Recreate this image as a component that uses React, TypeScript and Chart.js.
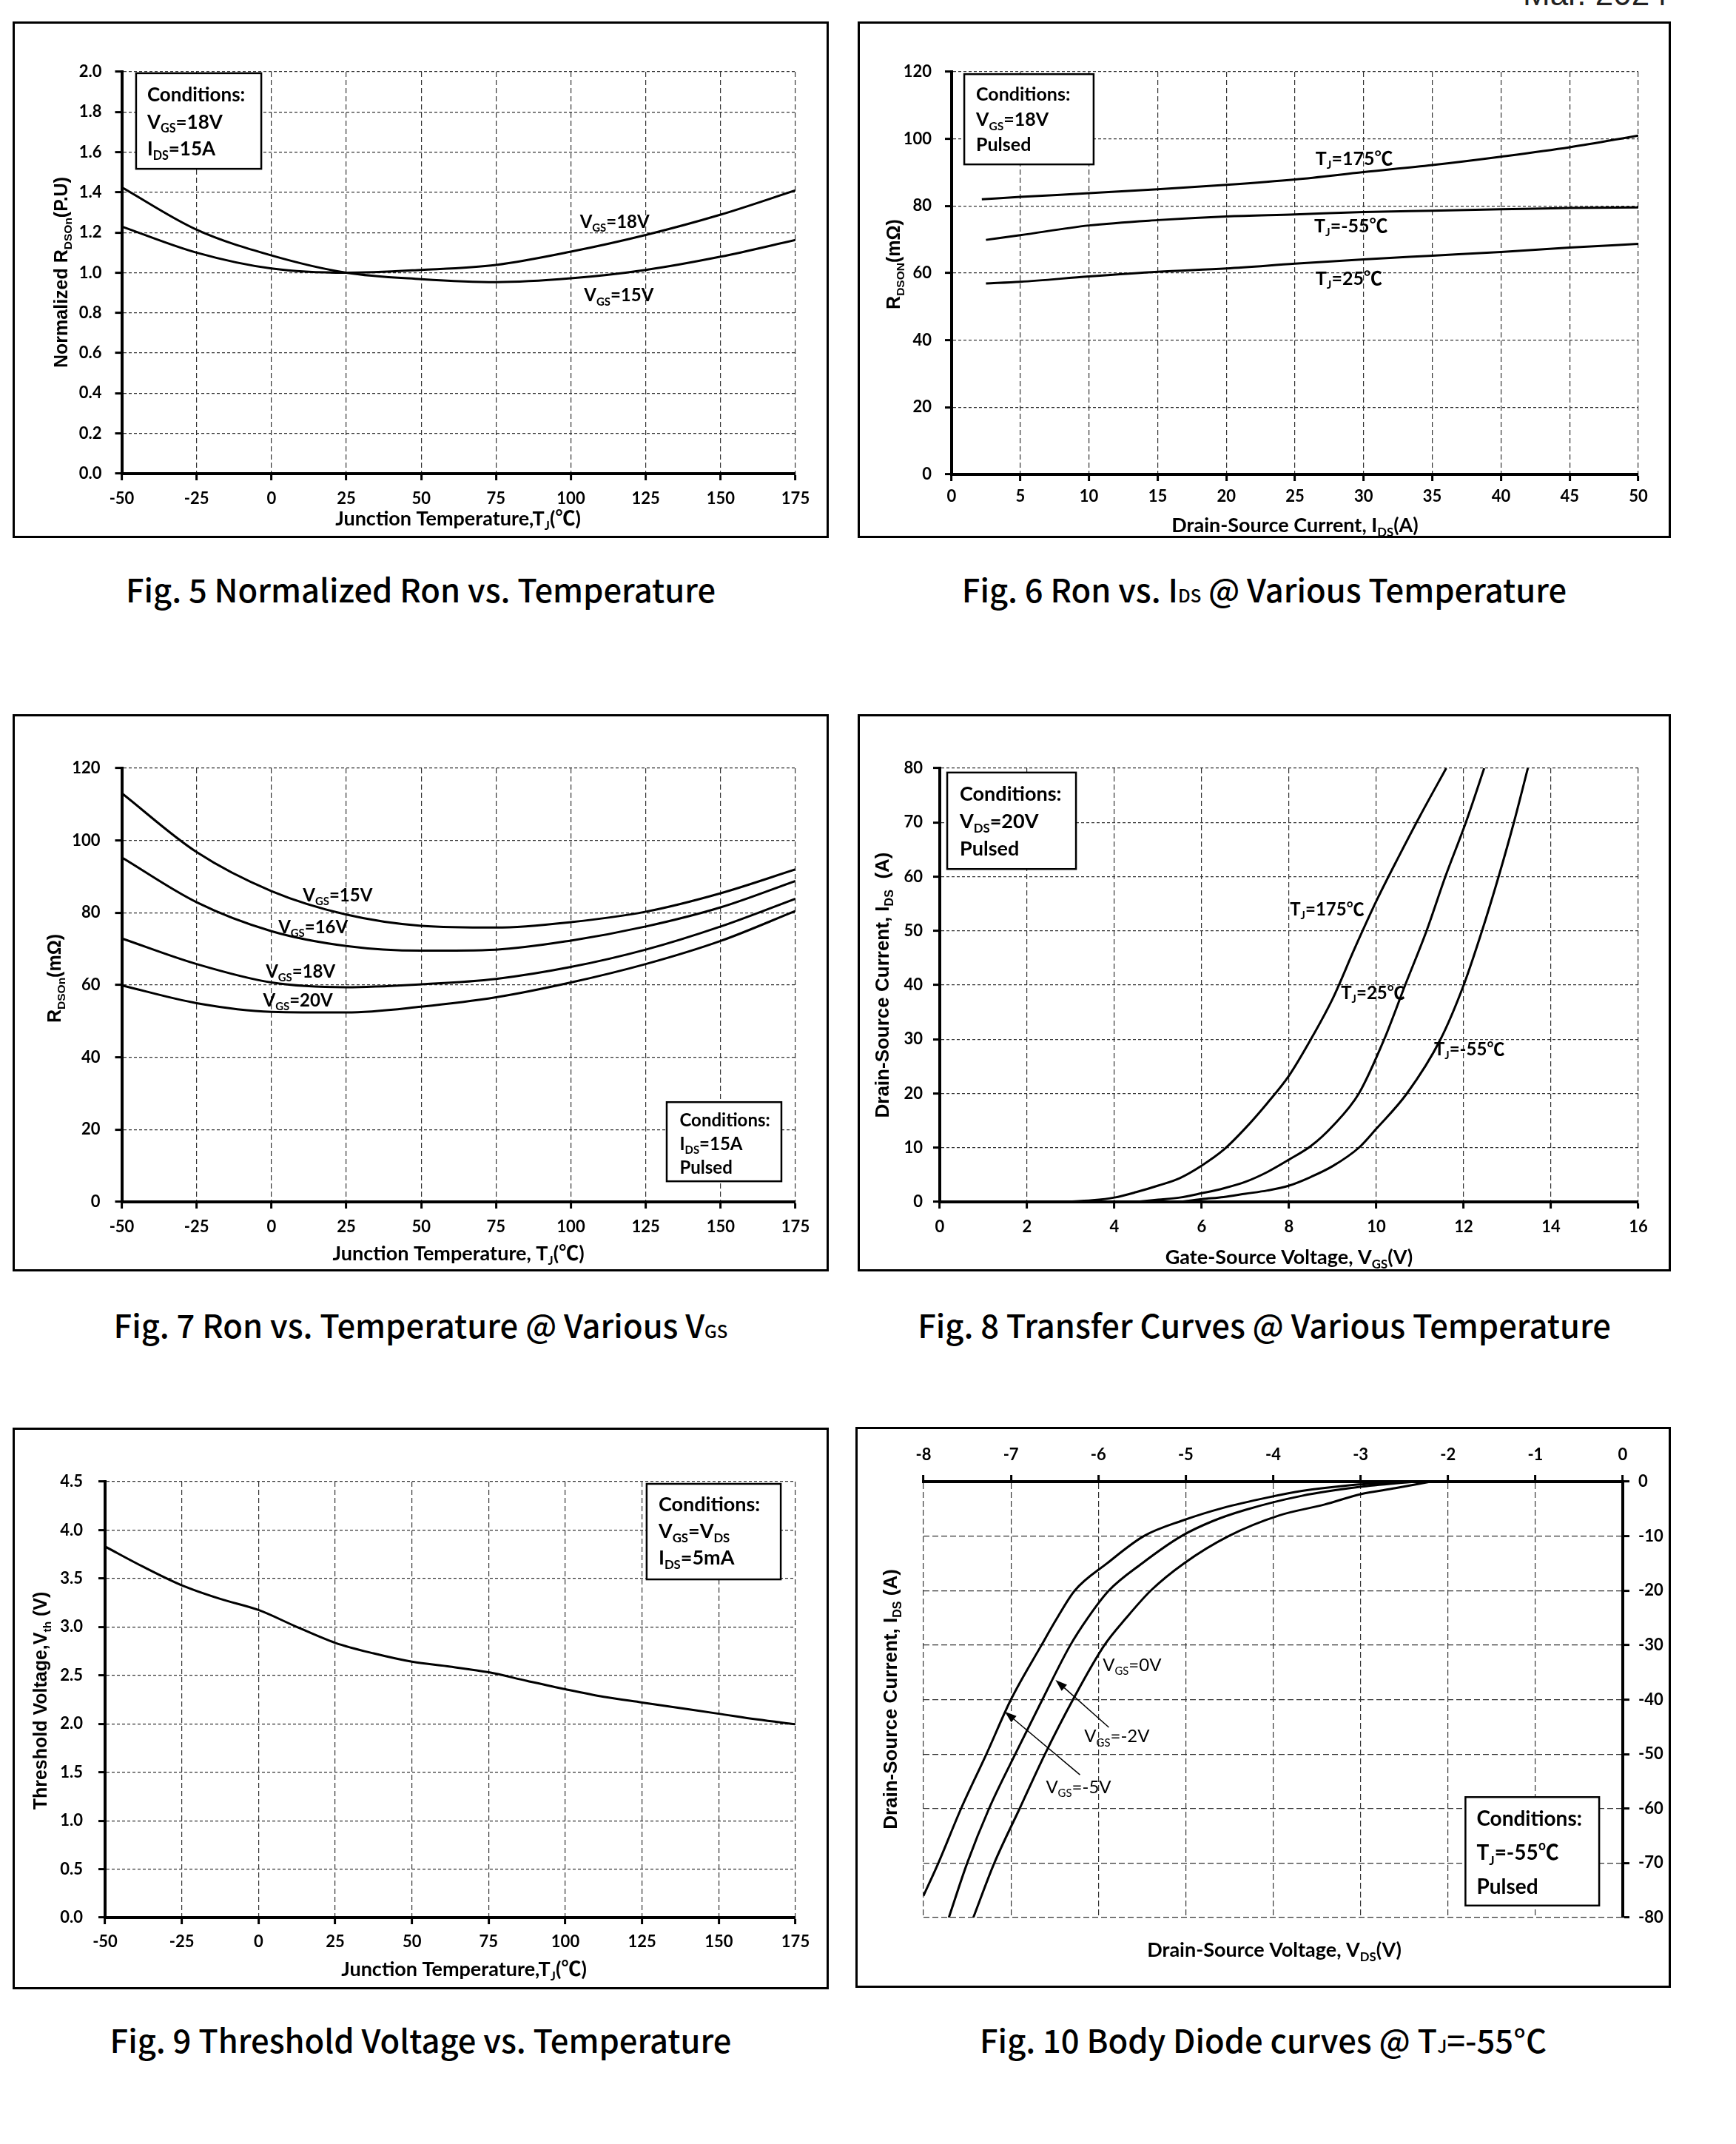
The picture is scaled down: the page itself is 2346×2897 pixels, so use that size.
import React, { useEffect, useRef } from 'react';
import { Chart, registerables } from 'chart.js';
Chart.register(...registerables);

// ---------------- Data ----------------
// Fig 5 Normalized Ron vs Temperature
const fig5Temp = [-50, -25, 0, 25, 50, 75, 100, 125, 150, 175];
const fig5Vgs18 = [1.23, 1.1, 1.021, 1.0, 1.014, 1.039, 1.105, 1.188, 1.289, 1.41];
const fig5Vgs15 = [1.425, 1.214, 1.086, 1.0, 0.968, 0.953, 0.972, 1.014, 1.08, 1.163];

// Fig 6 Ron vs IDS
const fig6Ids175 = [2.2, 5, 10, 15, 20, 25, 30, 35, 40, 45, 50];
const fig6Ids = [2.5, 5, 10, 15, 20, 25, 30, 35, 40, 45, 50];
const fig6Tj175 = [82.0, 82.7, 83.8, 85.0, 86.3, 87.9, 90.1, 92.2, 94.7, 97.5, 101.0];
const fig6TjM55 = [69.9, 71.3, 74.2, 75.8, 76.9, 77.5, 78.2, 78.6, 79.0, 79.4, 79.6];
const fig6Tj25 = [56.9, 57.4, 59.0, 60.4, 61.4, 62.8, 64.1, 65.2, 66.3, 67.6, 68.7];

// Fig 7 Ron vs Temperature @ various VGS
const fig7Temp = [-50, -25, 0, 25, 50, 75, 100, 125, 150, 175];
const fig7Vgs15 = [113.1, 96.8, 86.0, 79.5, 76.4, 75.9, 77.4, 80.3, 85.4, 92.0];
const fig7Vgs16 = [95.3, 82.9, 74.9, 70.8, 69.5, 69.8, 72.3, 76.2, 81.5, 88.8];
const fig7Vgs18 = [72.9, 65.8, 60.7, 59.4, 60.2, 61.7, 65.0, 69.8, 76.2, 83.9];
const fig7Vgs20 = [59.9, 55.0, 52.6, 52.4, 54.0, 56.6, 60.7, 65.8, 72.2, 80.5];

// Fig 8 Transfer curves
const fig8Vgs175 = [2.8, 3.5, 4, 4.5, 5, 5.5, 6, 6.5, 7, 7.5, 8, 8.5, 9, 9.5, 10, 10.5, 11, 11.6];
const fig8Ids175 = [0, 0.3, 0.8, 1.8, 3.0, 4.4, 6.7, 9.6, 13.6, 18.2, 23.3, 30, 37.5, 46.7, 55.5, 63.5, 71.2, 80];
const fig8Vgs25 = [4.5, 5, 5.5, 6, 6.5, 7, 7.5, 8, 8.5, 9, 9.6, 10.18, 10.66, 11.15, 11.58, 12.05, 12.47];
const fig8Ids25 = [0, 0.4, 0.8, 1.6, 2.5, 3.7, 5.5, 7.8, 10.3, 14, 20, 30, 40, 50, 60, 70, 80];
const fig8VgsM55 = [5.5, 6, 6.5, 7, 7.5, 8, 8.5, 9, 9.6, 10, 10.7, 11.47, 12, 12.42, 12.8, 13.15, 13.47];
const fig8IdsM55 = [0, 0.5, 0.9, 1.5, 2.1, 3.0, 4.6, 6.6, 10, 13.5, 20, 30, 40, 50, 60, 70, 80];

// Fig 9 Threshold voltage vs temperature
const fig9Temp = [-50, -37.5, -25, -12.5, 0, 12.5, 25, 37.5, 50, 62.5, 75, 87.5, 100, 112.5, 125, 137.5, 150, 162.5, 175];
const fig9Vth = [3.83, 3.62, 3.43, 3.29, 3.175, 3.0, 2.836, 2.727, 2.641, 2.59, 2.532, 2.443, 2.357, 2.279, 2.22, 2.162, 2.104, 2.045, 1.995];

// Fig 10 Body diode curves
const fig10Vds0 = [-2.2, -2.6, -3.0, -3.41, -3.93, -4.51, -5.02, -5.4, -5.68, -5.93, -6.29, -6.61, -6.9, -7.19, -7.43];
const fig10Ids0 = [0, -1.2, -2.3, -4.2, -6.2, -10, -15, -20, -25, -30, -40, -50, -60, -70, -80];
const fig10VdsM2 = [-2.38, -3.02, -3.67, -4.32, -4.7, -5.05, -5.5, -5.88, -6.12, -6.32, -6.64, -6.95, -7.25, -7.5, -7.71];
const fig10IdsM2 = [0, -1, -2.6, -5.2, -7.3, -10, -15, -20, -25, -30, -40, -50, -60, -70, -80];
const fig10VdsM5 = [-2.47, -3.15, -3.67, -4.06, -4.57, -5.03, -5.48, -5.9, -6.27, -6.47, -6.65, -7.0, -7.28, -7.57, -7.83, -8.0];
const fig10IdsM5 = [0, -0.7, -1.7, -2.9, -4.8, -7.1, -10, -15, -20, -25, -30, -40, -50, -60, -70, -76];

// ---------------- Rendering helpers ----------------
const LABEL_FONT = 'Lato, "Noto Sans CJK SC", sans-serif';
const YT_FONT = '"Liberation Sans", Arial, "Noto Sans CJK SC", sans-serif';

type Seg = { t: string; sub: boolean };
function parseRich(s: string): Seg[] {
  const out: Seg[] = [];
  const re = /_\{([^}]*)\}/g;
  let last = 0;
  let m: RegExpExecArray | null;
  while ((m = re.exec(s))) {
    if (m.index > last) out.push({ t: s.slice(last, m.index), sub: false });
    out.push({ t: m[1], sub: true });
    last = re.lastIndex;
  }
  if (last < s.length) out.push({ t: s.slice(last), sub: false });
  return out;
}

function drawRich(ctx: CanvasRenderingContext2D, s: string, x: number, y: number, size: number, family: string, weight: string, align: 'left' | 'center') {
  const segs = parseRich(s);
  const subSize = size * 0.62;
  let total = 0;
  const ws = segs.map((g) => {
    ctx.font = `${weight} ${g.sub ? subSize : size}px ${family}`;
    const w = ctx.measureText(g.t).width;
    total += w;
    return w;
  });
  let cx = align === 'center' ? x - total / 2 : x;
  ctx.textAlign = 'left';
  ctx.textBaseline = 'alphabetic';
  segs.forEach((g, i) => {
    ctx.font = `${weight} ${g.sub ? subSize : size}px ${family}`;
    ctx.fillText(g.t, cx, g.sub ? y + size * 0.22 : y);
    cx += ws[i];
  });
}

type Series = { x: number[]; y: number[] };
type Axis = { min: number; max: number; step: number; pos: string; size: number; pad: number; dec?: number };
type Label = { x: number; y: number; text: string; size: number; weight?: string };
type Arrow = { x1: number; y1: number; x2: number; y2: number };
type Spec = {
  L: number; T: number; W: number; H: number;
  padding: { left: number; top: number; right: number; bottom: number };
  xAxis: Axis; yAxis: Axis;
  series: Series[];
  yTitle: { text: string; x: number; y: number; size: number };
  xTitle: { text: string; x: number; y: number; size: number };
  box: { x1: number; y1: number; x2: number; y2: number; padL: number; first: number; gap: number; size: number; lines: string[] };
  labels: Label[];
  arrows?: Arrow[];
  hDash: number[]; vDash: number[];
};

function makeAnnot(s: Spec) {
  return {
    id: 'annot',
    afterDatasetsDraw(chart: any) {
      const ctx = chart.ctx as CanvasRenderingContext2D;
      const xs = chart.scales.x;
      const ys = chart.scales.y;
      const px = (v: number) => xs.getPixelForValue(v);
      const py = (v: number) => ys.getPixelForValue(v);
      ctx.save();
      ctx.fillStyle = '#000';
      ctx.strokeStyle = '#000';
      for (const a of s.arrows || []) {
        const x1 = px(a.x1), y1 = py(a.y1), x2 = px(a.x2), y2 = py(a.y2);
        const ang = Math.atan2(y2 - y1, x2 - x1);
        const hl = 16, hw = 5.5;
        const bx = x2 - hl * Math.cos(ang), by = y2 - hl * Math.sin(ang);
        ctx.lineWidth = 1.5;
        ctx.beginPath(); ctx.moveTo(x1, y1); ctx.lineTo(bx, by); ctx.stroke();
        ctx.beginPath(); ctx.moveTo(x2, y2);
        ctx.lineTo(bx + hw * Math.sin(ang), by - hw * Math.cos(ang));
        ctx.lineTo(bx - hw * Math.sin(ang), by + hw * Math.cos(ang));
        ctx.closePath(); ctx.fill();
      }
      for (const l of s.labels) {
        drawRich(ctx, l.text, px(l.x), py(l.y) + l.size * 0.36, l.size, LABEL_FONT, l.weight || 'bold', 'left');
      }
      const b = s.box;
      const bx1 = px(b.x1), by1 = py(b.y1), bx2 = px(b.x2), by2 = py(b.y2);
      ctx.fillStyle = '#fff';
      ctx.fillRect(bx1, by1, bx2 - bx1, by2 - by1);
      ctx.lineWidth = 2.5;
      ctx.strokeStyle = '#000';
      ctx.strokeRect(bx1, by1, bx2 - bx1, by2 - by1);
      ctx.fillStyle = '#000';
      b.lines.forEach((t, i) => drawRich(ctx, t, bx1 + b.padL, by1 + b.first + i * b.gap + b.size * 0.36, b.size, LABEL_FONT, 'bold', 'left'));
      ctx.save();
      ctx.translate(s.yTitle.x, s.yTitle.y);
      ctx.rotate(-Math.PI / 2);
      drawRich(ctx, s.yTitle.text, 0, s.yTitle.size * 0.36, s.yTitle.size, YT_FONT, 'bold', 'center');
      ctx.restore();
      drawRich(ctx, s.xTitle.text, s.xTitle.x, s.xTitle.y + s.xTitle.size * 0.36, s.xTitle.size, LABEL_FONT, 'bold', 'center');
      ctx.restore();
    },
  };
}

function buildConfig(s: Spec): any {
  const datasets = s.series.map((ser) => ({
    data: ser.x.map((x, i) => ({ x, y: ser.y[i] })),
    borderColor: '#000',
    backgroundColor: '#000',
    borderWidth: 3,
    pointRadius: 0,
    fill: false,
    cubicInterpolationMode: 'monotone',
  }));
  const mkScale = (a: Axis, horizontal: boolean) => {
    const ticks: any = {
      stepSize: a.step,
      autoSkip: false,
      maxRotation: 0,
      minRotation: 0,
      padding: a.pad,
      color: '#000',
      font: { family: 'Lato, "Noto Sans CJK SC", sans-serif', weight: 'bold', size: 22 },
    };
    if (a.dec !== undefined) ticks.callback = (v: number) => Number(v).toFixed(a.dec);
    return {
      type: 'linear',
      position: a.pos,
      min: a.min,
      max: a.max,
      afterFit: (sc: any) => {
        if (horizontal) sc.height = a.size;
        else sc.width = a.size;
      },
      ticks,
      grid: { color: '#333', lineWidth: 1.2, drawTicks: true, tickLength: 9, tickWidth: 3, tickColor: '#000', drawOnChartArea: true },
      border: { display: true, color: '#000', width: 4, dash: horizontal ? s.vDash : s.hDash },
    };
  };
  return {
    type: 'line',
    data: { datasets },
    options: {
      responsive: false,
      animation: false,
      devicePixelRatio: 1,
      layout: { padding: s.padding },
      plugins: { legend: { display: false }, tooltip: { enabled: false } },
      scales: { x: mkScale(s.xAxis, true), y: mkScale(s.yAxis, false) },
    },
    plugins: [makeAnnot(s)],
  };
}

// ---------------- Chart specs ----------------
const fig5: Spec = {
  L: 17, T: 29, W: 1103, H: 698,
  padding: { left: 67.5, top: 68, right: 45, bottom: 32 },
  xAxis: { min: -50, max: 175, step: 25, pos: 'bottom', size: 55, pad: 12 },
  yAxis: { min: 0, max: 2, step: 0.2, pos: 'left', size: 80, pad: 18, dec: 1 },
  series: [{ x: fig5Temp, y: fig5Vgs18 }, { x: fig5Temp, y: fig5Vgs15 }],
  yTitle: { text: 'Normalized R_{DSOn}(P.U)', x: 65, y: 339, size: 25 },
  xTitle: { text: 'Junction Temperature,T_{J}(℃)', x: 602, y: 671, size: 27 },
  box: { x1: -45.2, y1: 1.993, x2: -3.4, y2: 1.517, padL: 15, first: 29, gap: 36.5, size: 26, lines: ['Conditions:', 'V_{GS}=18V', 'I_{DS}=15A'] },
  labels: [
    { x: 103, y: 1.255, text: 'V_{GS}=18V', size: 24 },
    { x: 104.4, y: 0.889, text: 'V_{GS}=15V', size: 24 },
  ],
  hDash: [4, 3], vDash: [7, 4],
};

const fig6: Spec = {
  L: 1159, T: 29, W: 1099, H: 698,
  padding: { left: 47, top: 68, right: 44, bottom: 31 },
  xAxis: { min: 0, max: 50, step: 5, pos: 'bottom', size: 55, pad: 8 },
  yAxis: { min: 0, max: 120, step: 20, pos: 'left', size: 80, pad: 18 },
  series: [{ x: fig6Ids175, y: fig6Tj175 }, { x: fig6Ids, y: fig6TjM55 }, { x: fig6Ids, y: fig6Tj25 }],
  yTitle: { text: 'R_{DSON}(mΩ)', x: 48, y: 328, size: 25 },
  xTitle: { text: 'Drain-Source Current, I_{DS}(A)', x: 591, y: 680, size: 27 },
  box: { x1: 0.92, y1: 119.3, x2: 10.34, y2: 92.4, padL: 16, first: 27, gap: 34, size: 25, lines: ['Conditions:', 'V_{GS}=18V', 'Pulsed'] },
  labels: [
    { x: 26.5, y: 94.3, text: 'T_{J}=175℃', size: 25 },
    { x: 26.4, y: 74.2, text: 'T_{J}=-55℃', size: 25 },
    { x: 26.5, y: 58.5, text: 'T_{J}=25℃', size: 25 },
  ],
  hDash: [4, 3], vDash: [7, 4],
};

const fig7: Spec = {
  L: 17, T: 965, W: 1103, H: 753,
  padding: { left: 67.5, top: 73, right: 45, bottom: 39 },
  xAxis: { min: -50, max: 175, step: 25, pos: 'bottom', size: 55, pad: 12 },
  yAxis: { min: 0, max: 120, step: 20, pos: 'left', size: 80, pad: 20 },
  series: [
    { x: fig7Temp, y: fig7Vgs15 },
    { x: fig7Temp, y: fig7Vgs16 },
    { x: fig7Temp, y: fig7Vgs18 },
    { x: fig7Temp, y: fig7Vgs20 },
  ],
  yTitle: { text: 'R_{DSOn}(mΩ)', x: 56, y: 357, size: 25 },
  xTitle: { text: 'Junction Temperature, T_{J}(℃)', x: 602.6, y: 728, size: 27 },
  box: { x1: 132, y1: 27.6, x2: 170.3, y2: 5.7, padL: 17.5, first: 24, gap: 32, size: 24, lines: ['Conditions:', 'I_{DS}=15A', 'Pulsed'] },
  labels: [
    { x: 10.5, y: 84.9, text: 'V_{GS}=15V', size: 24 },
    { x: 2.3, y: 76.2, text: 'V_{GS}=16V', size: 24 },
    { x: -1.9, y: 63.8, text: 'V_{GS}=18V', size: 24 },
    { x: -2.8, y: 55.8, text: 'V_{GS}=20V', size: 24 },
  ],
  hDash: [4, 3], vDash: [7, 4],
};

const fig8: Spec = {
  L: 1159, T: 965, W: 1099, H: 753,
  padding: { left: 31, top: 73, right: 44, bottom: 39 },
  xAxis: { min: 0, max: 16, step: 2, pos: 'bottom', size: 55, pad: 12 },
  yAxis: { min: 0, max: 80, step: 10, pos: 'left', size: 80, pad: 14 },
  series: [
    { x: fig8Vgs175, y: fig8Ids175 },
    { x: fig8Vgs25, y: fig8Ids25 },
    { x: fig8VgsM55, y: fig8IdsM55 },
  ],
  yTitle: { text: 'Drain-Source Current, I_{DS}  (A)', x: 33, y: 366, size: 26 },
  xTitle: { text: 'Gate-Source Voltage, V_{GS}(V)', x: 583, y: 733, size: 27 },
  box: { x1: 0.17, y1: 79.2, x2: 3.12, y2: 61.4, padL: 17, first: 28, gap: 37, size: 27, lines: ['Conditions:', 'V_{DS}=20V', 'Pulsed'] },
  labels: [
    { x: 8.02, y: 54.0, text: 'T_{J}=175℃', size: 24 },
    { x: 9.19, y: 38.6, text: 'T_{J}=25℃', size: 24 },
    { x: 11.32, y: 28.2, text: 'T_{J}=-55℃', size: 24 },
  ],
  hDash: [4, 3], vDash: [7, 4],
};

const fig9: Spec = {
  L: 17, T: 1929, W: 1103, H: 759,
  padding: { left: 45, top: 73, right: 45, bottom: 42 },
  xAxis: { min: -50, max: 175, step: 25, pos: 'bottom', size: 55, pad: 11 },
  yAxis: { min: 0, max: 4.5, step: 0.5, pos: 'left', size: 80, pad: 21, dec: 1 },
  series: [{ x: fig9Temp, y: fig9Vth }],
  yTitle: { text: 'Threshold Voltage,V_{th} (V)', x: 37, y: 369, size: 25 },
  xTitle: { text: 'Junction Temperature,T_{J}(℃)', x: 610, y: 731, size: 27 },
  box: { x1: 126.5, y1: 4.477, x2: 170.2, y2: 3.491, padL: 16, first: 27, gap: 36, size: 27, lines: ['Conditions:', 'V_{GS}=V_{DS}', 'I_{DS}=5mA'] },
  labels: [],
  hDash: [4, 3], vDash: [7, 4],
};

const fig10: Spec = {
  L: 1156, T: 1928, W: 1102, H: 758,
  padding: { left: 92, top: 19, right: 5, bottom: 95 },
  xAxis: { min: -8, max: 0, step: 1, pos: 'top', size: 55, pad: 14 },
  yAxis: { min: -80, max: 0, step: 10, pos: 'right', size: 60, pad: 12 },
  series: [
    { x: fig10Vds0, y: fig10Ids0 },
    { x: fig10VdsM2, y: fig10IdsM2 },
    { x: fig10VdsM5, y: fig10IdsM5 },
  ],
  yTitle: { text: 'Drain-Source Current, I_{DS} (A)', x: 47, y: 368, size: 26 },
  xTitle: { text: 'Drain-Source Voltage, V_{DS}(V)', x: 566, y: 706, size: 27 },
  box: { x1: -1.8, y1: -57.9, x2: -0.27, y2: -77.8, padL: 15, first: 29, gap: 46, size: 28, lines: ['Conditions:', 'T_{J}=-55℃', 'Pulsed'] },
  labels: [
    { x: -5.95, y: -33.6, text: 'V_{GS}=0V', size: 24, weight: 'normal' },
    { x: -6.16, y: -46.7, text: 'V_{GS}=-2V', size: 24, weight: 'normal' },
    { x: -6.6, y: -56, text: 'V_{GS}=-5V', size: 24, weight: 'normal' },
  ],
  arrows: [
    { x1: -5.88, y1: -45.1, x2: -6.49, y2: -36.4 },
    { x1: -6.21, y1: -53.8, x2: -7.07, y2: -42.2 },
  ],
  hDash: [8, 4], vDash: [8, 4],
};

// ---------------- Components ----------------
function ChartBox({ spec }: { spec: Spec }) {
  const ref = useRef<HTMLCanvasElement>(null);
  useEffect(() => {
    const chart = new Chart(ref.current as HTMLCanvasElement, buildConfig(spec));
    return () => chart.destroy();
  }, [spec]);
  return (
    <div style={{ position: 'absolute', left: spec.L, top: spec.T, width: spec.W, height: spec.H }}>
      <canvas ref={ref} width={spec.W} height={spec.H} style={{ position: 'absolute', left: 0, top: 0, width: spec.W, height: spec.H }} />
      <div style={{ position: 'absolute', left: 0, top: 0, width: spec.W, height: spec.H, border: '3px solid #000', boxSizing: 'border-box', pointerEvents: 'none' }} />
    </div>
  );
}

const subStyle: React.CSSProperties = { fontSize: '0.55em' };

function Caption({ L, W, cy, children }: { L: number; W: number; cy: number; children: React.ReactNode }) {
  return (
    <div
      style={{
        position: 'absolute', left: L, width: W, top: cy - 26, textAlign: 'center',
        fontFamily: '"Noto Sans CJK SC", sans-serif', fontWeight: 500, fontSize: 43.5, lineHeight: '44px',
        whiteSpace: 'nowrap', color: '#000',
      }}
    >
      {children}
    </div>
  );
}

export default function App() {
  return (
    <div style={{ position: 'absolute', left: 0, top: 0, width: 2346, height: 2897, overflow: 'hidden', background: '#fff' }}>
      <div style={{ position: 'absolute', left: 2058, top: -30, fontFamily: '"Liberation Sans", Arial, sans-serif', fontSize: 44, lineHeight: '44px', color: '#222', whiteSpace: 'nowrap' }}>
        Mar. 2024
      </div>
      <ChartBox spec={fig5} />
      <ChartBox spec={fig6} />
      <ChartBox spec={fig7} />
      <ChartBox spec={fig8} />
      <ChartBox spec={fig9} />
      <ChartBox spec={fig10} />
      <Caption L={17} W={1103} cy={800}>Fig. 5 Normalized Ron vs. Temperature</Caption>
      <Caption L={1159} W={1099} cy={800}>Fig. 6 Ron vs. I<span style={subStyle}>DS</span> @ Various Temperature</Caption>
      <Caption L={17} W={1103} cy={1794}>Fig. 7 Ron vs. Temperature @ Various V<span style={subStyle}>GS</span></Caption>
      <Caption L={1159} W={1099} cy={1794}>Fig. 8 Transfer Curves @ Various Temperature</Caption>
      <Caption L={17} W={1103} cy={2760}>Fig. 9 Threshold Voltage vs. Temperature</Caption>
      <Caption L={1156} W={1102} cy={2760}>Fig. 10 Body Diode curves @ T<span style={subStyle}>J</span>=-55°C</Caption>
    </div>
  );
}
